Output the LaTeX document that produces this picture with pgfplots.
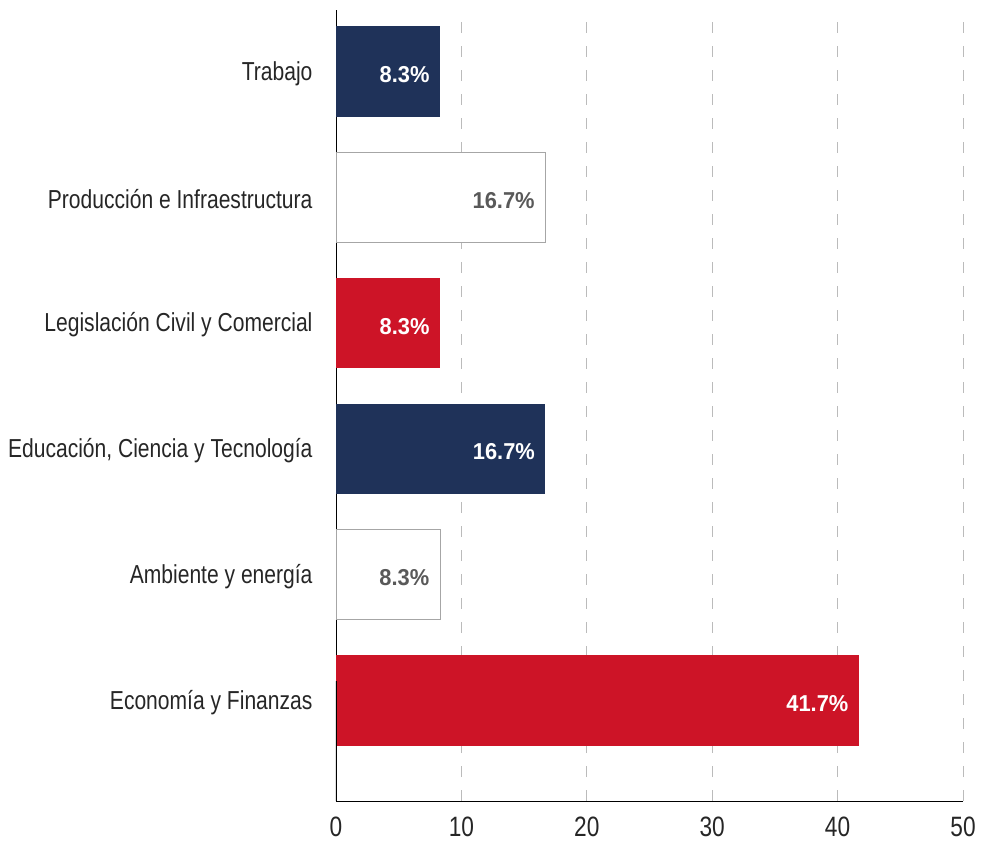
\documentclass[border=0pt]{standalone}
\usepackage{fontspec}
\setmainfont{Liberation Sans}[FakeStretch=0.81]
\newfontfamily\valfont{Liberation Sans}[FakeStretch=0.95]
\usepackage{pgfplots}
\pgfplotsset{compat=1.18}

\definecolor{navy}{HTML}{1F3259}
\definecolor{crimson}{HTML}{CD1427}
\definecolor{boxgray}{HTML}{A6A6A6}
\definecolor{labgray}{HTML}{595959}
\definecolor{gridgray}{HTML}{BBBBBB}

\begin{document}
\begin{tikzpicture}
\begin{axis}[
    xbar,
    scale only axis,
    width=627pt,
    height=791pt,
    xmin=0, xmax=50,
    ymin=-0.8, ymax=5.49,
    bar width=0.72,
    bar shift=0pt,
    axis lines=left,
    axis line style={-, black, line width=0.9pt},
    xtick={0,10,...,50},
    ytick={0,...,5},
    yticklabels={Economía y Finanzas, Ambiente y energía, {Educación, Ciencia y Tecnología}, Legislación Civil y Comercial, Producción e Infraestructura, Trabajo},
    major tick length=0pt,
    xmajorgrids,
    major grid style={gridgray, line width=0.9pt, dash pattern=on 11pt off 13pt},
    yticklabel style={font=\fontsize{26}{30}\selectfont, color=black!85, xshift=-20pt, yshift=-2pt},
    xticklabel style={font=\fontsize{28}{32}\selectfont, color=black!85, yshift=-12pt},
    /pgf/number format/assume math mode=true,
    nodes near coords={\pgfmathprintnumber[fixed,precision=1,fixed zerofill]{\pgfplotspointmeta}\%},
    nodes near coords style={anchor=east, xshift=-7pt, yshift=-3pt, font=\fontsize{23}{26}\valfont\bfseries},
    every axis plot/.append style={draw=none},
]
\addplot[fill=crimson, nodes near coords style={white}] coordinates {(41.7,0)};
\addplot[fill=white, draw=boxgray, line width=0.9pt, nodes near coords style={labgray}] coordinates {(8.3,1)};
\addplot[fill=navy, nodes near coords style={white}] coordinates {(16.7,2)};
\addplot[fill=crimson, nodes near coords style={white}] coordinates {(8.3,3)};
\addplot[fill=white, draw=boxgray, line width=0.9pt, nodes near coords style={labgray}] coordinates {(16.7,4)};
\addplot[fill=navy, nodes near coords style={white}] coordinates {(8.3,5)};
\draw[black, line width=2.5pt] (axis cs:0,-0.8) -- ++(0,19pt);
\end{axis}
\pgfresetboundingbox
\path[use as bounding box] ([xshift=-336pt,yshift=10pt]current axis.north west) rectangle ([xshift=18pt,yshift=-44pt]current axis.south east);
\end{tikzpicture}
\end{document}
